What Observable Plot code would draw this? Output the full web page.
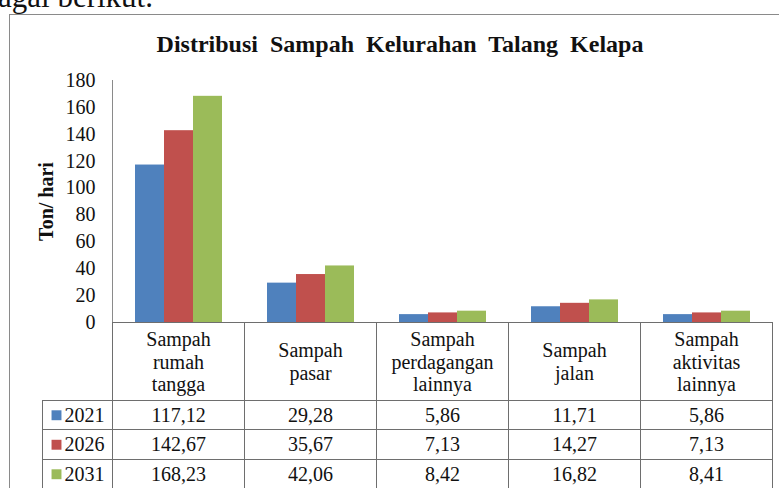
<!DOCTYPE html>
<html>
<head>
<meta charset="utf-8">
<script src="https://cdn.jsdelivr.net/npm/d3@7"></script>
<script src="https://cdn.jsdelivr.net/npm/@observablehq/plot@0.6"></script>
<style>
  html, body { margin: 0; padding: 0; background: #fff; }
  #wrap { position: relative; width: 779px; height: 488px; overflow: hidden; background: #fff;
          font-family: "Liberation Serif", Tinos, "Times New Roman", "DejaVu Serif", serif; color: #111; }
  #doc { position: absolute; left: -2px; top: -19px; font-size: 31px; line-height: 31px; white-space: nowrap; }
  #box { position: absolute; left: 9px; top: 14px; width: 820px; height: 520px;
         border-left: 1.5px solid #8a8a8a; border-top: 1.5px solid #8a8a8a; }
  #title { position: absolute; left: 0; width: 800px; top: 30px; text-align: center; font-weight: bold;
           font-size: 24px; line-height: 28px; word-spacing: 6px; white-space: nowrap; }
  #chart { position: absolute; left: 0; top: 0; }
</style>
</head>
<body>
<div id="wrap">
  <div id="doc">agai berikut.</div>
  <div id="box"></div>
  <div id="title">Distribusi Sampah Kelurahan Talang Kelapa</div>
  <div id="chart"></div>
</div>
<script>
// ---- data ----
const categories = ["Sampah rumah tangga", "Sampah pasar", "Sampah perdagangan lainnya", "Sampah jalan", "Sampah aktivitas lainnya"];
const categoryLabels = ["Sampah\nrumah\ntangga", "Sampah\npasar", "Sampah\nperdagangan\nlainnya", "Sampah\njalan", "Sampah\naktivitas\nlainnya"];
const years = ["2021", "2026", "2031"];
const values2021 = [117.12, 29.28, 5.86, 11.71, 5.86];
const values2026 = [142.67, 35.67, 7.13, 14.27, 7.13];
const values2031 = [168.23, 42.06, 8.42, 16.82, 8.41];
const yTicks = [0, 20, 40, 60, 80, 100, 120, 140, 160, 180];
const yLabel = "Ton/ hari";
const colors = ["#4F81BD", "#C0504D", "#9BBB59"];

const series = [values2021, values2026, values2031];
const rows = categories.flatMap((c, i) => years.map((yr, j) => ({category: c, year: yr, value: series[j][i]})));
const fmt = v => d3.format(".2f")(v).replace(".", ",");

const HEADER = 78, ROW = 29.5;
const font = "'Liberation Serif', Tinos, 'Times New Roman', 'DejaVu Serif', serif";

const marks = [
  Plot.barY(rows, {fx: "category", x: "year", y: "value", fill: "year"}),
  // category header labels
  Plot.text(categories, {fx: d => d, text: (d, i) => categoryLabels[i], frameAnchor: "bottom",
    dy: HEADER / 2, lineAnchor: "middle", lineHeight: 1.13, fill: "#111"}),
  // y label
  Plot.text([yLabel], {fx: () => categories[0], frameAnchor: "left", dx: -66, rotate: -90,
    textAnchor: "middle", lineAnchor: "middle", fontWeight: "bold", fontSize: 20, fill: "#111"})
];
years.forEach((yr, j) => {
  const dy = HEADER + ROW * j + ROW / 2;
  marks.push(Plot.text(categories, {fx: d => d, text: (d, i) => fmt(series[j][i]), frameAnchor: "bottom", dy,
    textAnchor: "middle", lineAnchor: "middle", fill: "#111"}));
  marks.push(Plot.dot([yr], {fx: () => categories[0], frameAnchor: "bottom-left", dx: -56, dy, symbol: "square", r: 5.6, fill: d => d, stroke: null}));
  marks.push(Plot.text([yr], {fx: () => categories[0], text: d => d, frameAnchor: "bottom-left", dx: -48, dy,
    textAnchor: "start", lineAnchor: "middle", fill: "#111"}));
});

const chart = Plot.plot({
  width: 779, height: 488,
  marginLeft: 110, marginRight: 6, marginTop: 80, marginBottom: 166,
  style: {fontFamily: font, fontSize: "20px", color: "#111", background: "transparent", overflow: "visible"},
  fx: {domain: categories, padding: 0, axis: null},
  x: {domain: years, paddingInner: 0, paddingOuter: 0.74, axis: null},
  y: {domain: [0, 180], ticks: yTicks, tickSize: 0, tickPadding: 17, label: null},
  color: {domain: years, range: colors},
  marks
});

// table grid + axis lines, positioned from Plot's own scales
const fx = chart.scale("fx"), ys = chart.scale("y");
const svg = d3.select(chart);
const g = svg.append("g").attr("fill", "none").attr("shape-rendering", "crispEdges");
const y0 = ys.apply(0), yTop = ys.apply(180);
const xs = categories.map(c => fx.apply(c));
const xEnd = xs[xs.length - 1] + fx.bandwidth;
const xLeg = 42;
const yBottom = 488;
g.append("line").attr("x1", xs[0]).attr("x2", xs[0]).attr("y1", yTop).attr("y2", y0).attr("stroke", "#8a8a8a");
g.append("line").attr("x1", xs[0]).attr("x2", xEnd).attr("y1", y0).attr("y2", y0).attr("stroke", "#6e6e6e");
[...xs, xEnd].forEach(x => g.append("line").attr("x1", x).attr("x2", x).attr("y1", y0).attr("y2", yBottom).attr("stroke", "#6e6e6e"));
g.append("line").attr("x1", xLeg).attr("x2", xLeg).attr("y1", y0 + HEADER).attr("y2", yBottom).attr("stroke", "#6e6e6e");
[0, 1, 2].forEach(k => {
  const yy = y0 + HEADER + ROW * k;
  g.append("line").attr("x1", xLeg).attr("x2", xEnd).attr("y1", yy).attr("y2", yy).attr("stroke", "#6e6e6e");
});

document.getElementById("chart").appendChild(chart);
</script>
</body>
</html>
